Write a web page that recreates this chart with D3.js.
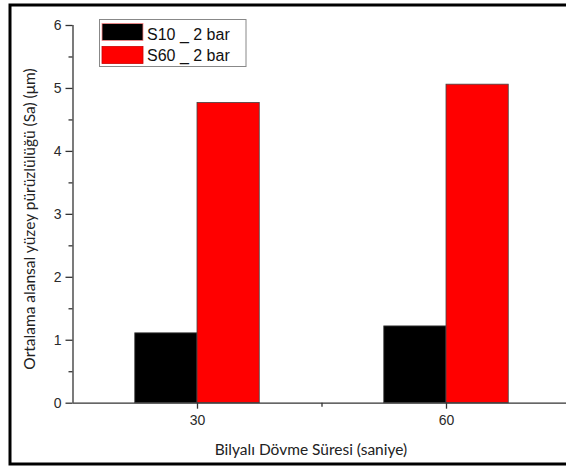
<!DOCTYPE html>
<html>
<head>
<meta charset="utf-8">
<script src="https://cdn.jsdelivr.net/npm/d3@7"></script>
<style>
  html, body { margin: 0; padding: 0; background: #fff; }
  svg { display: block; }
</style>
</head>
<body>
<script>
// Shot-peening duration groups and mean areal roughness per series
const categories = [30, 60];
const seriesNames = ["S10 _ 2 bar", "S60 _ 2 bar"];
const seriesColors = ["#000000", "#ff0000"];
const s10Values = [1.11, 1.22];
const s60Values = [4.77, 5.06];
const yTicks = [0, 1, 2, 3, 4, 5, 6];
const yMinorTicks = [0.5, 1.5, 2.5, 3.5, 4.5, 5.5];
const xTicks = [30, 60];
const xMinorTicks = [45];
const xTitle = "Bilyalı Dövme Süresi (saniye)";
const yTitle = "Ortalama alansal yüzey pürüzlülüğü (Sa) (μm)";

const W = 566, H = 466;
const svg = d3.select("body").append("svg").attr("width", W).attr("height", H);

// outer frame
svg.append("rect").attr("x", 10).attr("y", 5).attr("width", W + 20).attr("height", 459)
  .attr("fill", "#fff").attr("stroke", "#000").attr("stroke-width", 3);

const x = d3.scaleLinear().domain([15, 75]).range([72.5, 570.5]);
const y = d3.scaleLinear().domain([0, 6]).range([402.7, 25]);
const barW = 7.5; // bar width in x units

const axisColor = "#333";
const g = svg.append("g");

const series = [s10Values, s60Values];
series.forEach((vals, si) => {
  g.selectAll(null).data(categories.map((c, i) => ({ c, v: vals[i] })))
    .enter().append("rect")
    .attr("x", d => x(si === 0 ? d.c - barW : d.c))
    .attr("width", d => x(d.c + barW) - x(d.c))
    .attr("y", d => y(d.v))
    .attr("height", d => y(0) - y(d.v))
    .attr("fill", seriesColors[si])
    .attr("stroke", "#444").attr("stroke-width", 0.8);
});

// y axis
const yAxis = d3.axisLeft(y).tickValues(yTicks).tickFormat(d3.format("d")).tickSize(7).tickPadding(4);
const yg = svg.append("g").attr("transform", `translate(${x(15)},0)`).call(yAxis);
const yMinor = d3.axisLeft(y).tickValues(yMinorTicks).tickSize(4).tickFormat("");
svg.append("g").attr("transform", `translate(${x(15)},0)`).call(yMinor).select(".domain").remove();

// x axis
const xAxis = d3.axisBottom(x).tickValues(xTicks).tickFormat(d3.format("d")).tickSize(6).tickPadding(6);
const xg = svg.append("g").attr("transform", `translate(0,${y(0)})`).call(xAxis);
const xMinor = d3.axisBottom(x).tickValues(xMinorTicks).tickSize(4).tickFormat("");
svg.append("g").attr("transform", `translate(0,${y(0)})`).call(xMinor).select(".domain").remove();

svg.selectAll(".domain").attr("stroke", axisColor).attr("stroke-width", 1.3);
svg.selectAll(".tick line").attr("stroke", axisColor).attr("stroke-width", 1.3);
svg.selectAll(".tick text").attr("fill", "#2a2a2a")
  .style("font-family", "Arial, 'Liberation Sans', sans-serif").style("font-size", "14px");
// axis lines without end caps
xg.select(".domain").attr("d", `M${x(15)},0.5H${x(75)}`);
yg.select(".domain").attr("d", `M0.5,${y(6)}V${y(0)}`);

// axis titles
svg.append("text").attr("x", 311).attr("y", 455).attr("text-anchor", "middle")
  .style("font-family", "Lato, 'Open Sans', sans-serif").style("font-size", "15.5px").attr("fill", "#222")
  .text(xTitle);
svg.append("text").attr("transform", `translate(35,219) rotate(-90)`).attr("text-anchor", "middle")
  .style("font-family", "Lato, 'Open Sans', sans-serif").style("font-size", "15.5px").attr("fill", "#222")
  .text(yTitle);

// legend
const lg = svg.append("g");
lg.append("rect").attr("x", 99.5).attr("y", 19.5).attr("width", 146.5).attr("height", 47)
  .attr("fill", "#fff").attr("stroke", "#888").attr("stroke-width", 1);
seriesNames.forEach((name, i) => {
  lg.append("rect").attr("x", 102).attr("y", 23.5 + i * 23).attr("width", 41).attr("height", 17)
    .attr("fill", seriesColors[i]).attr("stroke", i === 0 ? "#f88" : "#c00").attr("stroke-width", 0.8);
  lg.append("text").attr("x", 147).attr("y", 39.5 + i * 21.5)
    .style("font-family", "Arial, 'Liberation Sans', sans-serif").style("font-size", "16px").attr("fill", "#111")
    .text(name);
});
</script>
</body>
</html>
